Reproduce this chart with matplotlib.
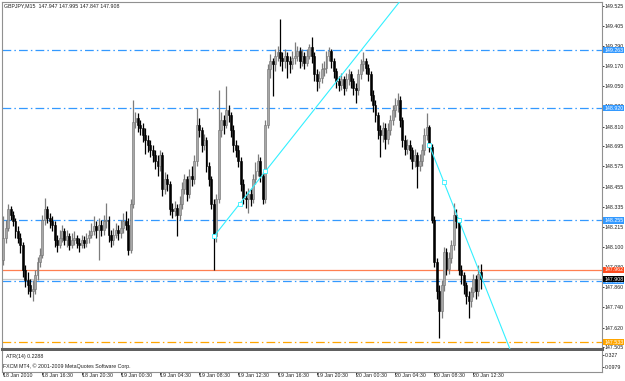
import matplotlib.pyplot as plt
import matplotlib.transforms as mtransforms
from matplotlib import font_manager
import numpy as np

# ---- GBPJPY M15 bars ----
opens = [148.02, 148.15, 148.21, 148.32, 148.29, 148.25, 148.19, 148.15, 148.11, 147.96,
         147.90, 147.87, 147.84, 147.85, 147.93, 148.01, 148.05, 148.26, 148.32, 148.27,
         148.25, 148.23, 148.14, 148.11, 148.15, 148.19, 148.14, 148.16, 148.11, 148.14,
         148.15, 148.12, 148.11, 148.14, 148.12, 148.15, 148.17, 148.19, 148.22, 148.20,
         148.23, 148.20, 148.25, 148.26, 148.17, 148.14, 148.17, 148.20, 148.18, 148.21,
         148.25, 148.23, 148.08, 148.35, 148.84, 148.86, 148.82, 148.80, 148.76, 148.73,
         148.70, 148.67, 148.64, 148.61, 148.58, 148.64, 148.44, 148.50, 148.47, 148.32,
         148.31, 148.33, 148.29, 148.35, 148.44, 148.50, 148.41, 148.52, 148.50, 148.61,
         148.82, 148.79, 148.70, 148.73, 148.58, 148.50, 148.35, 148.16, 148.38, 148.79,
         148.85, 148.82, 148.91, 148.88, 148.79, 148.70, 148.67, 148.61, 148.47, 148.39,
         148.38, 148.41, 148.38, 148.50, 148.55, 148.61, 148.52, 148.38, 148.82, 149.15,
         149.20, 149.18, 149.23, 149.25, 149.22, 149.20, 149.23, 149.20, 149.18, 149.22,
         149.23, 149.26, 149.20, 149.23, 149.19, 149.23, 149.28, 149.23, 149.12, 149.08,
         149.10, 149.15, 149.16, 149.23, 149.26, 149.20, 149.14, 149.08, 149.06, 149.09,
         149.04, 149.09, 149.12, 149.08, 149.04, 149.03, 149.12, 149.18, 149.20, 149.16,
         149.12, 149.00, 148.94, 148.88, 148.79, 148.76, 148.80, 148.74, 148.79, 148.85,
         148.91, 148.94, 148.97, 148.85, 148.73, 148.68, 148.70, 148.67, 148.61, 148.64,
         148.58, 148.61, 148.67, 148.76, 148.81, 148.69, 148.26, 148.01, 147.84, 147.72,
         147.87, 148.07, 147.97, 148.03, 148.11, 148.29, 148.25, 147.96, 147.93, 147.87,
         147.81, 147.78, 147.83, 147.91, 147.84, 147.947]
highs = [148.28, 148.26, 148.35, 148.34, 148.31, 148.27, 148.22, 148.18, 148.13, 147.99,
         147.95, 147.91, 147.90, 147.96, 148.04, 148.09, 148.29, 148.39, 148.34, 148.30,
         148.28, 148.25, 148.17, 148.20, 148.23, 148.21, 148.20, 148.18, 148.18, 148.19,
         148.17, 148.15, 148.17, 148.16, 148.18, 148.20, 148.24, 148.28, 148.25, 148.27,
         148.26, 148.29, 148.36, 148.28, 148.20, 148.21, 148.24, 148.23, 148.26, 148.30,
         148.31, 148.27, 148.38, 148.97, 148.90, 148.89, 148.85, 148.83, 148.80, 148.76,
         148.73, 148.70, 148.67, 148.64, 148.67, 148.66, 148.54, 148.53, 148.49, 148.36,
         148.37, 148.35, 148.40, 148.48, 148.53, 148.52, 148.56, 148.58, 148.64, 148.92,
         148.86, 148.81, 148.77, 148.75, 148.60, 148.52, 148.38, 148.41, 149.03, 148.90,
         148.88, 149.05, 148.94, 148.90, 148.82, 148.73, 148.70, 148.63, 148.50, 148.43,
         148.45, 148.44, 148.53, 148.60, 148.65, 148.63, 148.54, 148.85, 149.18, 149.24,
         149.22, 149.27, 149.29, 149.45, 149.25, 149.27, 149.25, 149.23, 149.26, 149.31,
         149.29, 149.28, 149.27, 149.25, 149.27, 149.30, 149.34, 149.25, 149.15, 149.14,
         149.19, 149.20, 149.26, 149.28, 149.27, 149.22, 149.16, 149.11, 149.13, 149.11,
         149.13, 149.15, 149.14, 149.10, 149.07, 149.15, 149.21, 149.25, 149.22, 149.18,
         149.14, 149.03, 148.97, 148.90, 148.82, 148.84, 148.83, 148.83, 148.88, 148.94,
         148.98, 149.01, 148.99, 148.87, 148.76, 148.74, 148.73, 148.69, 148.68, 148.66,
         148.65, 148.71, 148.80, 148.89, 148.82, 148.71, 148.28, 148.03, 147.87, 147.90,
         148.10, 148.09, 148.07, 148.14, 148.36, 148.32, 148.27, 147.99, 147.95, 147.89,
         147.84, 147.86, 147.94, 147.93, 147.99, 147.995]
lows = [147.99, 148.12, 148.19, 148.26, 148.22, 148.15, 148.12, 148.06, 147.92, 147.86,
        147.82, 147.80, 147.78, 147.82, 147.90, 147.98, 148.03, 148.23, 148.24, 148.21,
        148.19, 148.10, 148.07, 148.09, 148.13, 148.11, 148.10, 148.08, 148.09, 148.11,
        148.09, 148.07, 148.09, 148.09, 148.10, 148.12, 148.15, 148.17, 148.15, 148.02,
        148.16, 148.17, 148.21, 148.13, 148.10, 148.11, 148.15, 148.14, 148.15, 148.18,
        148.20, 148.05, 148.06, 148.33, 148.80, 148.78, 148.76, 148.72, 148.65, 148.66,
        148.63, 148.60, 148.56, 148.52, 148.55, 148.40, 148.41, 148.43, 148.29, 148.27,
        148.28, 148.16, 148.26, 148.32, 148.41, 148.37, 148.39, 148.46, 148.47, 148.58,
        148.75, 148.66, 148.67, 148.54, 148.46, 148.32, 147.96, 148.13, 148.36, 148.75,
        148.77, 148.80, 148.84, 148.75, 148.66, 148.63, 148.57, 148.43, 148.35, 148.33,
        148.30, 148.34, 148.36, 148.47, 148.52, 148.48, 148.35, 148.36, 148.80, 149.10,
        148.99, 149.14, 149.20, 149.17, 149.14, 149.16, 149.10, 149.13, 149.15, 149.18,
        149.20, 149.16, 149.17, 149.15, 149.17, 149.21, 149.19, 149.08, 149.02, 149.04,
        149.07, 149.11, 149.13, 149.20, 149.16, 149.10, 149.04, 149.02, 149.03, 149.00,
        149.02, 149.06, 149.04, 149.00, 148.95, 149.00, 149.09, 149.14, 149.12, 149.08,
        148.96, 148.90, 148.84, 148.74, 148.63, 148.72, 148.68, 148.71, 148.76, 148.82,
        148.87, 148.90, 148.81, 148.69, 148.64, 148.65, 148.62, 148.56, 148.57, 148.45,
        148.55, 148.58, 148.64, 148.73, 148.66, 148.24, 147.98, 147.79, 147.56, 147.68,
        147.84, 147.93, 147.94, 148.00, 148.08, 148.21, 147.93, 147.88, 147.82, 147.76,
        147.68, 147.74, 147.80, 147.79, 147.81, 147.847]
closes = [148.15, 148.21, 148.32, 148.29, 148.25, 148.19, 148.15, 148.11, 147.96, 147.90,
          147.87, 147.84, 147.85, 147.93, 148.01, 148.05, 148.26, 148.32, 148.27, 148.25,
          148.23, 148.14, 148.11, 148.15, 148.19, 148.14, 148.16, 148.11, 148.14, 148.15,
          148.12, 148.11, 148.14, 148.12, 148.15, 148.17, 148.19, 148.22, 148.20, 148.23,
          148.20, 148.25, 148.26, 148.17, 148.14, 148.17, 148.20, 148.18, 148.21, 148.25,
          148.23, 148.08, 148.35, 148.84, 148.86, 148.82, 148.80, 148.76, 148.73, 148.70,
          148.67, 148.64, 148.61, 148.58, 148.64, 148.44, 148.50, 148.47, 148.32, 148.31,
          148.33, 148.29, 148.35, 148.44, 148.50, 148.41, 148.52, 148.50, 148.61, 148.82,
          148.79, 148.70, 148.73, 148.58, 148.50, 148.35, 148.16, 148.38, 148.79, 148.85,
          148.82, 148.91, 148.88, 148.79, 148.70, 148.67, 148.61, 148.47, 148.39, 148.38,
          148.41, 148.38, 148.50, 148.55, 148.61, 148.52, 148.38, 148.82, 149.15, 149.20,
          149.18, 149.23, 149.25, 149.22, 149.20, 149.23, 149.20, 149.18, 149.22, 149.23,
          149.26, 149.20, 149.23, 149.19, 149.23, 149.28, 149.23, 149.12, 149.08, 149.10,
          149.15, 149.16, 149.23, 149.26, 149.20, 149.14, 149.08, 149.06, 149.09, 149.04,
          149.09, 149.12, 149.08, 149.04, 149.03, 149.12, 149.18, 149.20, 149.16, 149.12,
          149.00, 148.94, 148.88, 148.79, 148.76, 148.80, 148.74, 148.79, 148.85, 148.91,
          148.94, 148.97, 148.85, 148.73, 148.68, 148.70, 148.67, 148.61, 148.64, 148.58,
          148.61, 148.67, 148.76, 148.81, 148.69, 148.26, 148.01, 147.84, 147.72, 147.87,
          148.07, 147.97, 148.03, 148.11, 148.29, 148.25, 147.96, 147.93, 147.87, 147.81,
          147.78, 147.83, 147.91, 147.84, 147.94, 147.908]

time_labels = ["18 Jan 2010", "18 Jan 16:30", "18 Jan 20:30", "19 Jan 00:30", "19 Jan 04:30",
               "19 Jan 08:30", "19 Jan 12:30", "19 Jan 16:30", "19 Jan 20:30", "20 Jan 00:30",
               "20 Jan 04:30", "20 Jan 08:30", "20 Jan 12:30"]
time_label_bars = [0, 16, 32, 48, 64, 80, 96, 112, 128, 144, 160, 176, 192]

price_ticks = [149.525, 149.405, 149.290, 149.170, 149.050, 148.930, 148.810, 148.695, 148.575,
               148.455, 148.335, 148.215, 148.100, 147.980, 147.860, 147.740, 147.620, 147.505]

blue_levels = [149.263, 148.920, 148.255, 147.895]
red_level = 147.962
orange_level = 147.533
bid = 147.908

# trend lines: (bar, price) anchor points
trend1 = [(86, 148.16), (107, 148.545)]
trend2 = [(174, 148.70), (186, 148.26)]

atr_ticks = [0.327, 0.0979]

BLUE = "#3399ff"
RED = "#ff7f50"
ORANGE = "#ffa500"
CYAN = "#33f0ff"

# MT4 uses a tiny, narrow system font; pick a narrow face if there is one
try:
    font_manager.findfont("Liberation Sans Narrow", fallback_to_default=False)
    FAMILY = "Liberation Sans Narrow"
except Exception:
    FAMILY = "Liberation Sans"
plt.rcParams["font.family"] = [FAMILY, "DejaVu Sans"]

W, H = 625, 381
fig = plt.figure(figsize=(W / 100, H / 100), dpi=100)
fig.patch.set_facecolor("white")

# size the font so a price label is ~19 px wide, like the screenshot
probe = fig.text(0, 0, "149.525", fontsize=10)
pw = probe.get_window_extent(fig.canvas.get_renderer()).width
probe.remove()
FS = 10 * 19.0 / pw

ax = fig.add_axes([2 / W, (H - 349) / H, 600 / W, 347 / H])
ax_atr = fig.add_axes([2 / W, (H - 372) / H, 600 / W, 21 / H])

n = len(closes)
idx = np.arange(n)
o = np.array(opens)
c = np.array(closes)
hi = np.array(highs)
lo = np.array(lows)
up = c >= o

# wicks
ax.vlines(idx[up], lo[up], hi[up], color="#7c7c7c", lw=0.9, zorder=2)
ax.vlines(idx[~up], lo[~up], hi[~up], color="black", lw=0.9, zorder=2)
# bodies
body = np.maximum(np.abs(c - o), 0.004)
ax.bar(idx[up], body[up], bottom=np.minimum(o, c)[up], width=0.78,
       color="#a8a8a8", edgecolor="#707070", lw=0.4, zorder=3)
ax.bar(idx[~up], body[~up], bottom=np.minimum(o, c)[~up], width=0.78,
       color="black", edgecolor="black", lw=0.4, zorder=3)

xmin, xmax = -0.5, 244.5
ymin, ymax = 147.4935, 149.549
ax.set_xlim(xmin, xmax)
ax.set_ylim(ymin, ymax)

dashdot = (0, (7, 2.5, 1.2, 2.5))
for lvl in blue_levels:
    ax.axhline(lvl, color=BLUE, lw=0.9, ls=dashdot, zorder=1)
ax.axhline(bid, color="#c8c8c8", lw=0.9, zorder=1)
ax.axhline(red_level, color=RED, lw=0.9, zorder=1)
ax.axhline(orange_level, color=ORANGE, lw=0.9, ls=dashdot, zorder=1)

# trend lines (rays) with anchor markers
for (x0, y0), (x1, y1) in (trend1, trend2):
    slope = (y1 - y0) / (x1 - x0)
    xe = x0 + 80
    ax.plot([x0, xe], [y0, y0 + slope * (xe - x0)], color=CYAN, lw=0.8, zorder=4)
    xm = (x0 + x1) / 2
    ax.plot([x0, xm, x1], [y0, y0 + slope * (xm - x0), y1], ls="none", marker="s",
            ms=2.2, mfc="white", mec=CYAN, mew=0.6, zorder=5)

# right price scale
ax.yaxis.tick_right()
ax.set_yticks(price_ticks)
ax.set_yticklabels([f"{p:.3f}" for p in price_ticks])
ax.tick_params(axis="y", direction="out", length=1.5, width=0.6, pad=0.6,
               labelsize=FS, colors="#202020")
ax.set_xticks([])
for s in ("top", "left", "right"):
    ax.spines[s].set_color("#909090")
    ax.spines[s].set_linewidth(0.8)
ax.spines["bottom"].set_color("#606060")
ax.spines["bottom"].set_linewidth(2.2)

# price labels for the objects
lab_tr = mtransforms.blended_transform_factory(ax.transAxes, ax.transData)
def price_box(val, fc, tc="white", z=6):
    ax.text(1.0035, val, f"{val:.3f}", transform=lab_tr, fontsize=FS, color=tc,
            va="center", ha="left", clip_on=False, zorder=z,
            bbox=dict(boxstyle="square,pad=0.12", fc=fc, ec="none"))

for lvl in blue_levels:
    price_box(lvl, BLUE)
price_box(red_level, "#ff4a1c")
price_box(orange_level, ORANGE)
price_box(bid, "black", z=7)

# ATR sub window
ax_atr.set_xlim(xmin, xmax)
ax_atr.set_ylim(0.0025, 0.403)
ax_atr.yaxis.tick_right()
ax_atr.set_yticks(atr_ticks)
ax_atr.set_yticklabels(["0.327", "0.0979"])
ax_atr.tick_params(axis="y", direction="out", length=1.5, width=0.6, pad=0.6,
                   labelsize=FS, colors="#202020")
ax_atr.set_xticks(time_label_bars)
ax_atr.set_xticklabels(time_labels, ha="left")
ax_atr.tick_params(axis="x", direction="out", length=2.5, width=0.6, pad=-1.5,
                   labelsize=FS, colors="#202020")
for s in ("left", "right", "bottom"):
    ax_atr.spines[s].set_color("#909090")
    ax_atr.spines[s].set_linewidth(0.8)
ax_atr.spines["top"].set_visible(False)
ax_atr.text(0.006, 0.74, "ATR(14) 0.2288", transform=ax_atr.transAxes,
            fontsize=FS, va="center", ha="left", color="#202020")
ax_atr.text(0.002, 0.3, "FXCM MT4, \u00a9 2001-2009 MetaQuotes Software Corp.",
            transform=ax_atr.transAxes, fontsize=FS, va="center", ha="left", color="#202020")

fig.text(4 / W, 1 - 6 / H, "GBPJPY,M15  147.947 147.995 147.847 147.908",
         fontsize=FS, va="center", ha="left", color="#202020")

fig.savefig("out.png", dpi=100, facecolor="white")
